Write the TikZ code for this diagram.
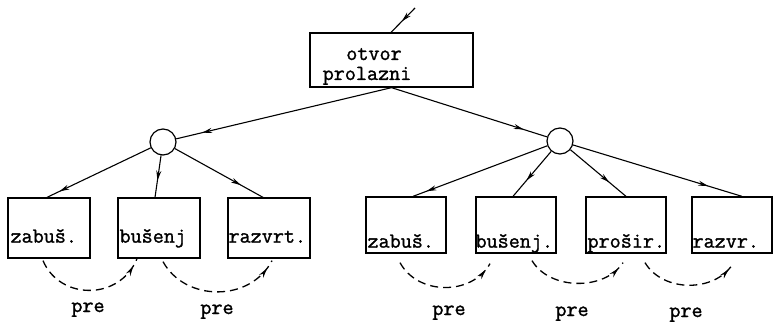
\documentclass[tikz,border=0pt]{standalone}
\usepackage{fontspec}
\newfontfamily\tw{Latin Modern Mono}[FakeBold=1.3]
\usetikzlibrary{arrows.meta,decorations.markings,calc}
\begin{document}
\begin{tikzpicture}[x=1pt,y=-1pt,
  box/.style={draw,line width=1.3pt,rectangle,inner sep=0pt},
  lbox/.style={box,minimum width=82pt,minimum height=60pt},
  rbox/.style={box,minimum width=80pt,minimum height=56pt},
  knot/.style={draw,line width=1.2pt,circle,minimum size=26pt,inner sep=0pt},
  lbl/.style={font=\tw\fontsize{21.5}{24}\selectfont,inner sep=0pt,anchor=base west},
  prelbl/.style={font=\tw\fontsize{21.5}{24}\selectfont,inner sep=0pt,anchor=base},
  conn/.style={line width=1.1pt},
  midarr/.style={postaction={decorate},decoration={markings,mark=at position #1 with {\arrow{Stealth[length=10pt,width=5pt]}}}},
  dsh/.style={line width=1.3pt,dash pattern=on 8pt off 5pt}
]
\useasboundingbox (0,0) rectangle (773,323);
% top box
\node[box,minimum width=163pt,minimum height=54pt] (top) at (391.5,60) {};
\node[prelbl] (tx1) at (374,60) {otvor};
\node[prelbl] (tx2) at (367,80) {prolazni};
\coordinate (in) at (415,8);
\draw[conn,midarr=0.55] (in) -- (top.north -| 391,0);
% circles
\node[knot] (lc) at (163,142) {};
\node[knot] (rc) at (560,141) {};
\draw[conn,midarr=0.88] (top.south) -- (lc);
\draw[conn,midarr=0.85] (top.south) -- (rc);
% left boxes
\node[lbox] (b1) at (49,228) {};
\node[lbox] (b2) at (159,228) {};
\node[lbox] (b3) at (269,228) {};
% right boxes
\node[rbox] (b4) at (406,225) {};
\node[rbox] (b5) at (516,225) {};
\node[rbox] (b6) at (626,225) {};
\node[rbox] (b7) at (732,225) {};
% texts
\node[lbl] (t1) at ($(b1.south west)+(3,-16)$) {zabuš.};
\node[lbl] (t2) at ($(b2.south west)+(2,-16)$) {bušenj};
\node[lbl] (t3) at ($(b3.south west)+(1,-16)$) {razvrt.};
\node[lbl] (t4) at ($(b4.south west)+(2,-6)$) {zabuš.};
\node[lbl] (t5) at ($(b5.south west)+(0,-6)$) {bušenj.};
\node[lbl] (t6) at ($(b6.south west)+(2,-6)$) {prošir.};
\node[lbl] (t7) at ($(b7.south west)+(1,-6)$) {razvr.};
% circle to boxes
\draw[conn,midarr=0.88] (lc) -- ($(b1.north)+(-2,0)$);
\draw[conn,midarr=0.6] (lc) -- ($(b2.north)+(-4,0)$);
\draw[conn,midarr=0.75] (lc) -- ($(b3.north)+(-6,0)$);
\draw[conn,midarr=0.9] (rc) -- ($(b4.north)+(7,0)$);
\draw[conn,midarr=0.65] (rc) -- ($(b5.north)+(-3,0)$);
\draw[conn,midarr=0.7] (rc) -- (b6.north);
\draw[conn,midarr=0.8] (rc) -- ($(b7.north)+(10,0)$);
% dashed precedence arcs
\draw[dsh,midarr=0.93] ($(b1.south)+(-6,2)$) .. controls +(17,40) and +(-17,42) .. ($(b2.south)+(-22,0)$);
\draw[dsh,midarr=0.93] ($(b2.south)+(4,3)$) .. controls +(22,40) and +(-22,42) .. ($(b3.south)+(3,2)$);
\draw[dsh,midarr=0.93] ($(b4.south)+(-6,9)$) .. controls +(18,33) and +(-18,32) .. ($(b5.south)+(-26,10)$);
\draw[dsh,midarr=0.93] ($(b5.south)+(16,7)$) .. controls +(18,30) and +(-18,28) .. ($(b6.south)+(-3,9)$);
\draw[dsh,midarr=0.93] ($(b6.south)+(19,9)$) .. controls +(18,30) and +(-18,29) .. ($(b7.south)+(1,10)$);
% labels
\node[prelbl] (p1) at (88,312) {pre};
\node[prelbl] (p2) at (217,314) {pre};
\node[prelbl] (p3) at (449,315) {pre};
\node[prelbl] (p4) at (572,316) {pre};
\node[prelbl] (p5) at (686,317) {pre};
\end{tikzpicture}
\end{document}
